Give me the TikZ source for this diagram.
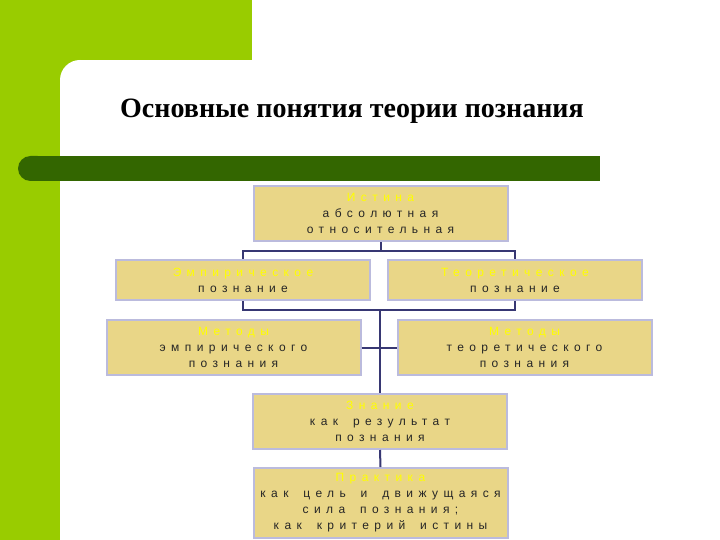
\documentclass[tikz,border=0pt]{standalone}
\usepackage{fontspec}
\setmainfont{Liberation Sans}
\newfontfamily\titlefont{Liberation Serif}
\newfontfamily\boxfont[LetterSpace=45, WordSpace=1.7]{Liberation Sans}
\usepackage{xcolor}
\usepackage{tikz}
\definecolor{slideLime}{RGB}{153,204,0}
\definecolor{barGreen}{RGB}{51,102,0}
\definecolor{boxFill}{RGB}{233,214,135}
\definecolor{boxEdge}{RGB}{187,187,221}
\definecolor{linkBlue}{RGB}{55,55,115}
\definecolor{headYellow}{RGB}{255,255,0}
\newcommand{\hd}[1]{\textcolor{headYellow}{#1}}

\begin{document}
\begin{tikzpicture}[x=1pt, y=-1pt,
  box/.style={draw=boxEdge, line width=2pt, fill=boxFill, align=center, inner sep=2pt,
              minimum width=254pt, text=black!85, font=\boxfont\fontsize{12}{16}\selectfont},
  link/.style={draw=linkBlue, line width=2pt}]
\useasboundingbox (0,0) rectangle (720,540);
\fill[white] (0,0) rectangle (720,540);
% background of the slide
\fill[slideLime] (0,0) rectangle (252,60);
\fill[slideLime] (0,0) rectangle (60,540);
\fill[slideLime] (60,60) rectangle (80,80);
\fill[white] (80,80) circle (20pt);
\fill[barGreen, rounded corners=12.5pt] (18,156) rectangle (50,181);
\fill[barGreen] (30,156) rectangle (600,181);
\node[font=\titlefont\bfseries\fontsize{28}{32}\selectfont, anchor=base] (title) at (352,118) {Основные понятия теории познания};
% boxes
\node[box, minimum height=55pt] (ist) at (380.5,213.5) {\hd{Истина}\\абсолютная\\относительная};
\node[box, minimum height=40pt] (emp) at (243,280) {\hd{Эмпирическое}\\познание};
\node[box, minimum height=40pt] (teo) at (515,280) {\hd{Теоретическое}\\познание};
\node[box, minimum height=55pt] (me) at (233.5,347.5) {\hd{Методы}\\эмпирического\\познания};
\node[box, minimum height=55pt] (mt) at (524.5,347.5) {\hd{Методы}\\теоретического\\познания};
\node[box, minimum height=55pt] (zn) at (380,421.5) {\hd{Знание}\\как результат\\познания};
\node[box, minimum height=70pt] (pr) at (380.5,503) {\hd{Практика}\\как цель и движущаяся\\сила познания;\\как критерий истины};
% connectors
\coordinate (bus) at (0,251);
\coordinate (bus2) at (0,310);
\draw[link] (ist.south) -- (ist.south |- bus);
\foreach \t in {emp,teo} \draw[link] (ist.south |- bus) -| (\t.north);
\foreach \t in {emp,teo} \draw[link] (\t.south) |- (zn.north |- bus2);
\draw[link] (zn.north |- bus2) -- (zn.north);
\draw[link] (me.east) -- (mt.west);
\draw[link] (zn.south) -- (pr.north);
\end{tikzpicture}
\end{document}
